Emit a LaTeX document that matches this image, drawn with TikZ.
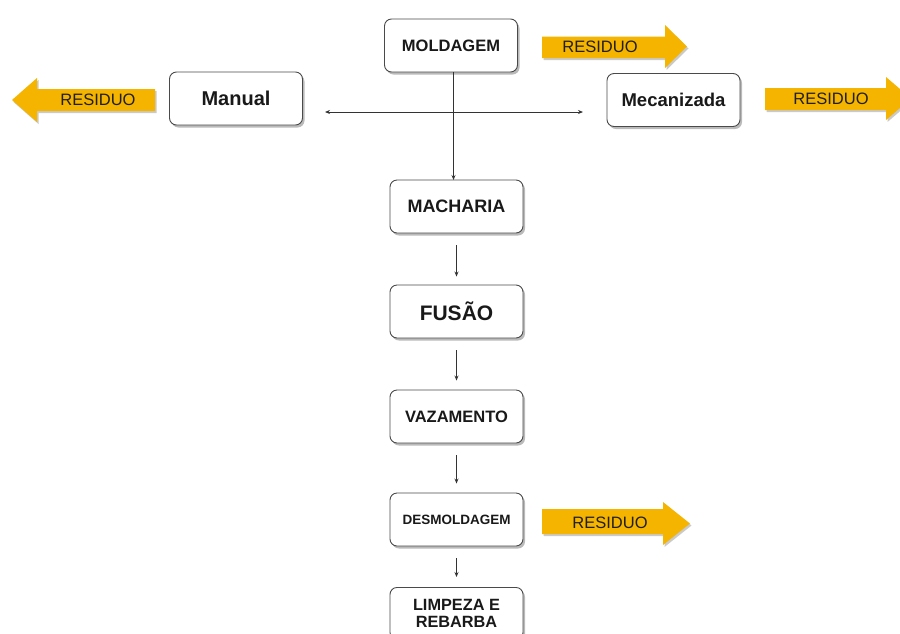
\documentclass[tikz,border=0pt]{standalone}
\usepackage{fontspec}
\setmainfont{Liberation Sans}
\usetikzlibrary{shadows,arrows.meta}
\definecolor{resyellow}{HTML}{F5B400}
\definecolor{boxline}{HTML}{4A4A4A}
\begin{document}
\begin{tikzpicture}[x=1pt,y=-1pt,
  procbox/.style={draw=boxline, line width=0.9pt, rounded corners=7pt, fill=white,
    minimum width=133pt, minimum height=53pt, align=center, text=black!90,
    drop shadow={shadow xshift=2pt, shadow yshift=-2.5pt, opacity=0.45, fill=black!60}},
  resarrow/.style={fill=resyellow, draw=none,
    drop shadow={shadow xshift=1.5pt, shadow yshift=-2pt, opacity=0.35, fill=black!60}},
  restext/.style={font=\fontsize{16.5}{18}\selectfont, text=black!88, inner sep=0pt},
  conn/.style={draw=black!80, line width=0.8pt, -{Stealth[length=5pt,width=4pt]}},
  conn2/.style={draw=black!80, line width=0.8pt, {Stealth[length=5pt,width=4pt]}-{Stealth[length=5pt,width=4pt]}}]
\useasboundingbox (0,0) rectangle (900,633);
\clip (0,0) rectangle (900,633);

% yellow RESIDUO arrows
\path[resarrow] (12,100) -- (37,78) -- (37,89) -- (155,89) -- (155,111) -- (37,111) -- (37,122) -- cycle;
\node[restext] (r1) at (98,100) {RESIDUO};
\path[resarrow] (687,46.5) -- (665,25) -- (665,36.5) -- (542,36.5) -- (542,58) -- (665,58) -- (665,68) -- cycle;
\node[restext] (r2) at (600,47) {RESIDUO};
\path[resarrow] (911,98.5) -- (886,77) -- (886,88) -- (765,88) -- (765,110) -- (886,110) -- (886,120) -- cycle;
\node[restext] (r3) at (831,99) {RESIDUO};
\path[resarrow] (690,523.5) -- (663,502) -- (663,509) -- (542,509) -- (542,534) -- (663,534) -- (663,545) -- cycle;
\node[restext] (r4) at (610,523) {RESIDUO};

% boxes
\node[procbox, font=\bfseries\fontsize{16.5}{18}\selectfont] (mold) at (451,45.5) {MOLDAGEM};
\node[procbox, font=\bfseries\fontsize{20}{22}\selectfont] (man) at (236,98.5) {Manual};
\node[procbox, font=\bfseries\fontsize{18.5}{20}\selectfont] (mec) at (673.5,100) {Mecanizada};
\node[procbox, font=\bfseries\fontsize{18}{20}\selectfont] (mach) at (456.5,206.5) {MACHARIA};
\node[procbox, font=\bfseries\fontsize{21}{23}\selectfont] (fus) at (456.5,311.5) {FUSÃO};
\node[procbox, font=\bfseries\fontsize{16.5}{18}\selectfont] (vaz) at (456.5,416.5) {VAZAMENTO};
\node[procbox, font=\bfseries\fontsize{13.5}{15}\selectfont] (desm) at (456.5,519.5) {DESMOLDAGEM};
\node[procbox, font=\bfseries\fontsize{16.3}{17.5}\selectfont, minimum height=52pt, inner ysep=1pt, anchor=north] (limp) at (456.5,587) {LIMPEZA E\\REBARBA};

% connectors
\coordinate (hl) at (325,112);
\coordinate (hr) at (583,112);
\draw[conn2] (hl) -- (hr);
\coordinate (mt) at (453.5,72);
\coordinate (mb) at (453.5,180);
\draw[conn] (mt) -- (mb);
\draw[conn, shorten <=12pt, shorten >=8pt] (mach.south) -- (fus.north);
\draw[conn, shorten <=12pt, shorten >=9pt] (fus.south) -- (vaz.north);
\draw[conn, shorten <=12pt, shorten >=9pt] (vaz.south) -- (desm.north);
\draw[conn, shorten <=12pt, shorten >=10pt] (desm.south) -- (limp.north);
\end{tikzpicture}
\end{document}
